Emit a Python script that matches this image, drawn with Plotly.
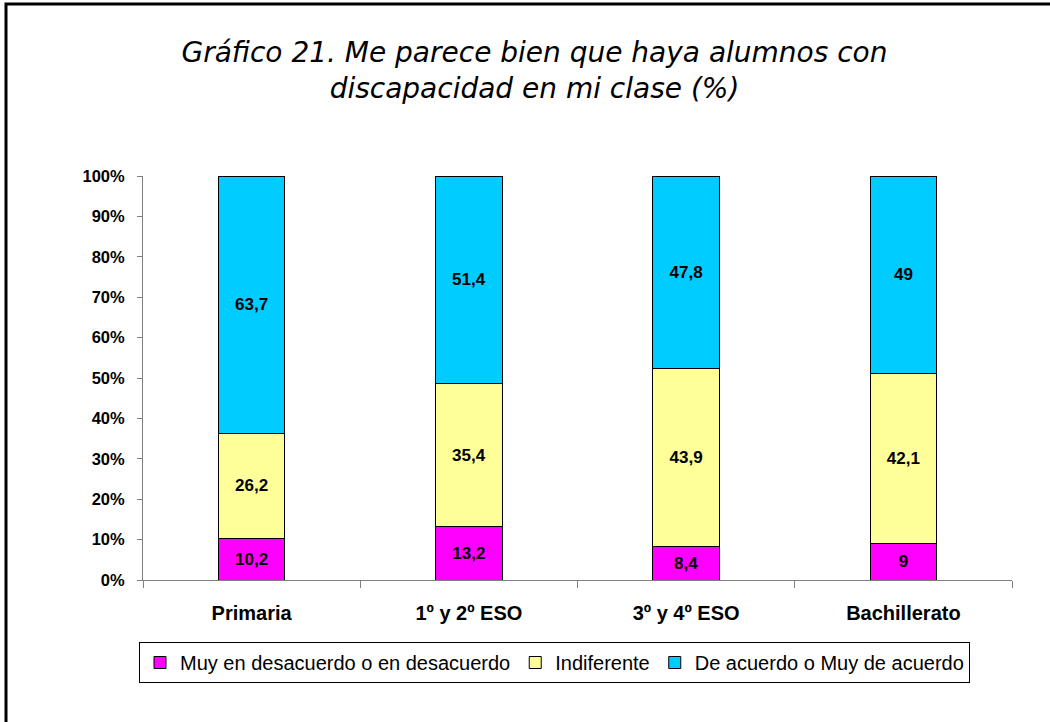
import plotly.graph_objects as go

categories = ["Primaria", "1º y 2º ESO", "3º y 4º ESO", "Bachillerato"]
series_names = ["Muy en desacuerdo o en desacuerdo", "Indiferente", "De acuerdo o Muy de acuerdo"]
desacuerdo = [10.2, 13.2, 8.4, 9]
indiferente = [26.2, 35.4, 43.9, 42.1]
acuerdo = [63.7, 51.4, 47.8, 49]
y_ticks = [0, 10, 20, 30, 40, 50, 60, 70, 80, 90, 100]
y_tick_labels = [f"{v}%" for v in y_ticks]

colors = ["#FF00FF", "#FFFF99", "#00CCFF"]
series = [desacuerdo, indiferente, acuerdo]

FONT = "Liberation Sans, Arial, sans-serif"


def fmt(v):
    return f"{v:g}".replace(".", ",")


fig = go.Figure()
for name, vals, col in zip(series_names, series, colors):
    fig.add_trace(go.Bar(
        name=name,
        x=categories,
        y=vals,
        width=0.305,
        marker=dict(color=col, line=dict(color="#000000", width=1)),
        text=[fmt(v) for v in vals],
        textposition="inside",
        insidetextanchor="middle",
        textangle=0,
        constraintext="none",
        textfont=dict(family=FONT, size=17, color="#000000", weight="bold"),
        hoverinfo="skip",
    ))

# pixel layout helpers
L, R, T, B = 143, 1012, 176, 580
W, H = 1050, 722
pw, ph = R - L, B - T

fig.update_layout(
    width=W, height=H,
    barmode="stack",
    barnorm="percent",
    paper_bgcolor="#FFFFFF",
    plot_bgcolor="#FFFFFF",
    margin=dict(l=L, r=W - R, t=T, b=H - B, pad=0),
    font=dict(family=FONT, color="#000000"),
    title=dict(
        text="Gráfico 21. Me parece bien que haya alumnos con<br>discapacidad en mi clase (%)",
        font=dict(family="DejaVu Sans, Verdana, sans-serif", size=28, style="italic", color="#000000"),
        x=534.5 / W, xanchor="center", xref="container",
        y=1 - 62 / H, yanchor="top", yref="container",
    ),
    showlegend=True,
    legend=dict(
        orientation="h",
        x=(554.5 - L) / pw, xanchor="center",
        y=(B - 642) / ph, yanchor="top",
        bordercolor="#000000", borderwidth=1,
        font=dict(family=FONT, size=20, color="#000000"),
        traceorder="normal",
        itemwidth=30,
    ),
    xaxis=dict(
        showline=True, linecolor="#808080", linewidth=1,
        ticks="outside", tickson="boundaries", ticklen=7, tickcolor="#808080",
        tickfont=dict(family=FONT, size=20, weight="bold", color="#000000"),
        ticklabelstandoff=15,
        showgrid=False, zeroline=False,
    ),
    yaxis=dict(
        range=[0, 100],
        tickvals=y_ticks, ticktext=y_tick_labels,
        showline=True, linecolor="#808080", linewidth=1,
        ticks="outside", ticklen=5, tickcolor="#808080",
        tickfont=dict(family=FONT, size=16.5, weight="bold", color="#000000"),
        ticklabelstandoff=9,
        showgrid=False, zeroline=False,
    ),
    shapes=[dict(
        type="rect", xref="paper", yref="paper",
        x0=(6 - L) / pw, x1=(1100 - L) / pw,
        y0=(B - 800) / ph, y1=(B - 4) / ph,
        line=dict(color="#000000", width=3), fillcolor="rgba(0,0,0,0)",
        layer="above",
    )],
)

fig.write_html(
    "out.html",
    config={"displayModeBar": False},
    post_script="document.body.style.margin='0px';document.body.style.overflow='hidden';",
)
